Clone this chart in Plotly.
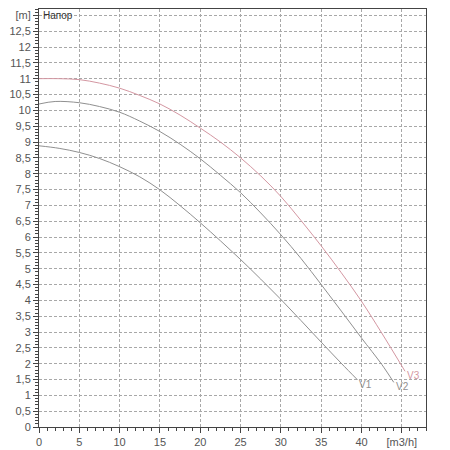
import plotly.graph_objects as go

# curve data (flow m3/h -> head m)
v1_q = [0, 2.5, 5, 7.5, 10, 12.5, 15, 17.5, 20, 22.5, 25, 27.5, 30, 32.5, 35, 37.5, 39.5]
v1_h = [8.88, 8.8, 8.67, 8.48, 8.22, 7.9, 7.49, 6.99, 6.45, 5.88, 5.29, 4.67, 4.03, 3.36, 2.68, 2.01, 1.49]

v2_q = [0, 2, 5, 7.5, 10, 12.5, 15, 17.5, 20, 22.5, 25, 27.5, 30, 32.5, 35, 37.5, 40, 42.5, 44.0]
v2_h = [10.2, 10.28, 10.24, 10.12, 9.94, 9.66, 9.33, 8.93, 8.47, 7.95, 7.4, 6.76, 6.07, 5.32, 4.5, 3.66, 2.81, 1.98, 1.41]

v3_q = [0, 2.5, 5, 7.5, 10, 12.5, 15, 17.5, 20, 22.5, 25, 27.5, 30, 32.5, 35, 37.5, 40, 42.5, 45.4]
v3_h = [11.0, 11.0, 10.97, 10.86, 10.7, 10.47, 10.2, 9.85, 9.44, 9.0, 8.5, 7.93, 7.28, 6.52, 5.72, 4.87, 3.97, 2.97, 1.76]

curve_names = ["V1", "V2", "V3"]
curve_colors = ["#909090", "#909090", "#d497a2"]

x_ticks = [0, 5, 10, 15, 20, 25, 30, 35, 40, 45]
x_labels = ["0", "5", "10", "15", "20", "25", "30", "35", "40", "[m3/h]"]
y_ticks = [i * 0.5 for i in range(27)]
y_labels = [("%g" % v).replace(".", ",") for v in y_ticks[:-1]] + ["[m]"]

fig = go.Figure()
for name, q, h, col in zip(curve_names, [v1_q, v2_q, v3_q], [v1_h, v2_h, v3_h], curve_colors):
    fig.add_trace(go.Scatter(x=q, y=h, mode="lines", name=name, line=dict(color=col, width=1, shape="spline")))
    fig.add_annotation(x=q[-1], y=h[-1], text=name, showarrow=False, xanchor="left", yanchor="top",
                       xshift=0, yshift=3, font=dict(size=10, color=col))

fig.add_annotation(x=0, y=13, text="Напор", showarrow=False, xanchor="left", yanchor="middle",
                   xshift=2, font=dict(size=10, color="#333333"))

grid = dict(showgrid=True, gridcolor="#a8a8a8", gridwidth=1, griddash="3px,2px", zeroline=False,
            showline=True, linecolor="#444444", linewidth=1, mirror=True, ticks="outside",
            tickcolor="#444444", ticklen=5, automargin=False, tickfont=dict(size=11, color="#555555"))

fig.update_xaxes(range=[0, 48], tickmode="array", tickvals=x_ticks, ticktext=x_labels,
                 minor=dict(tickmode="linear", tick0=0, dtick=1, ticklen=3, tickcolor="#444444", showgrid=False),
                 **grid)
fig.update_yaxes(range=[0, 13.2], tickmode="array", tickvals=y_ticks, ticktext=y_labels,
                 minor=dict(tickmode="linear", tick0=0, dtick=0.1, ticklen=3, tickcolor="#444444", showgrid=False),
                 **grid)

# page body adds ~8px offset, so the figure is drawn a bit smaller
fig.update_layout(width=442, height=442, showlegend=False,
                  font=dict(family="Liberation Sans, Arial, sans-serif"),
                  paper_bgcolor="white", plot_bgcolor="white",
                  margin=dict(l=31, r=24, t=1, b=23))

fig.write_html("out.html")
